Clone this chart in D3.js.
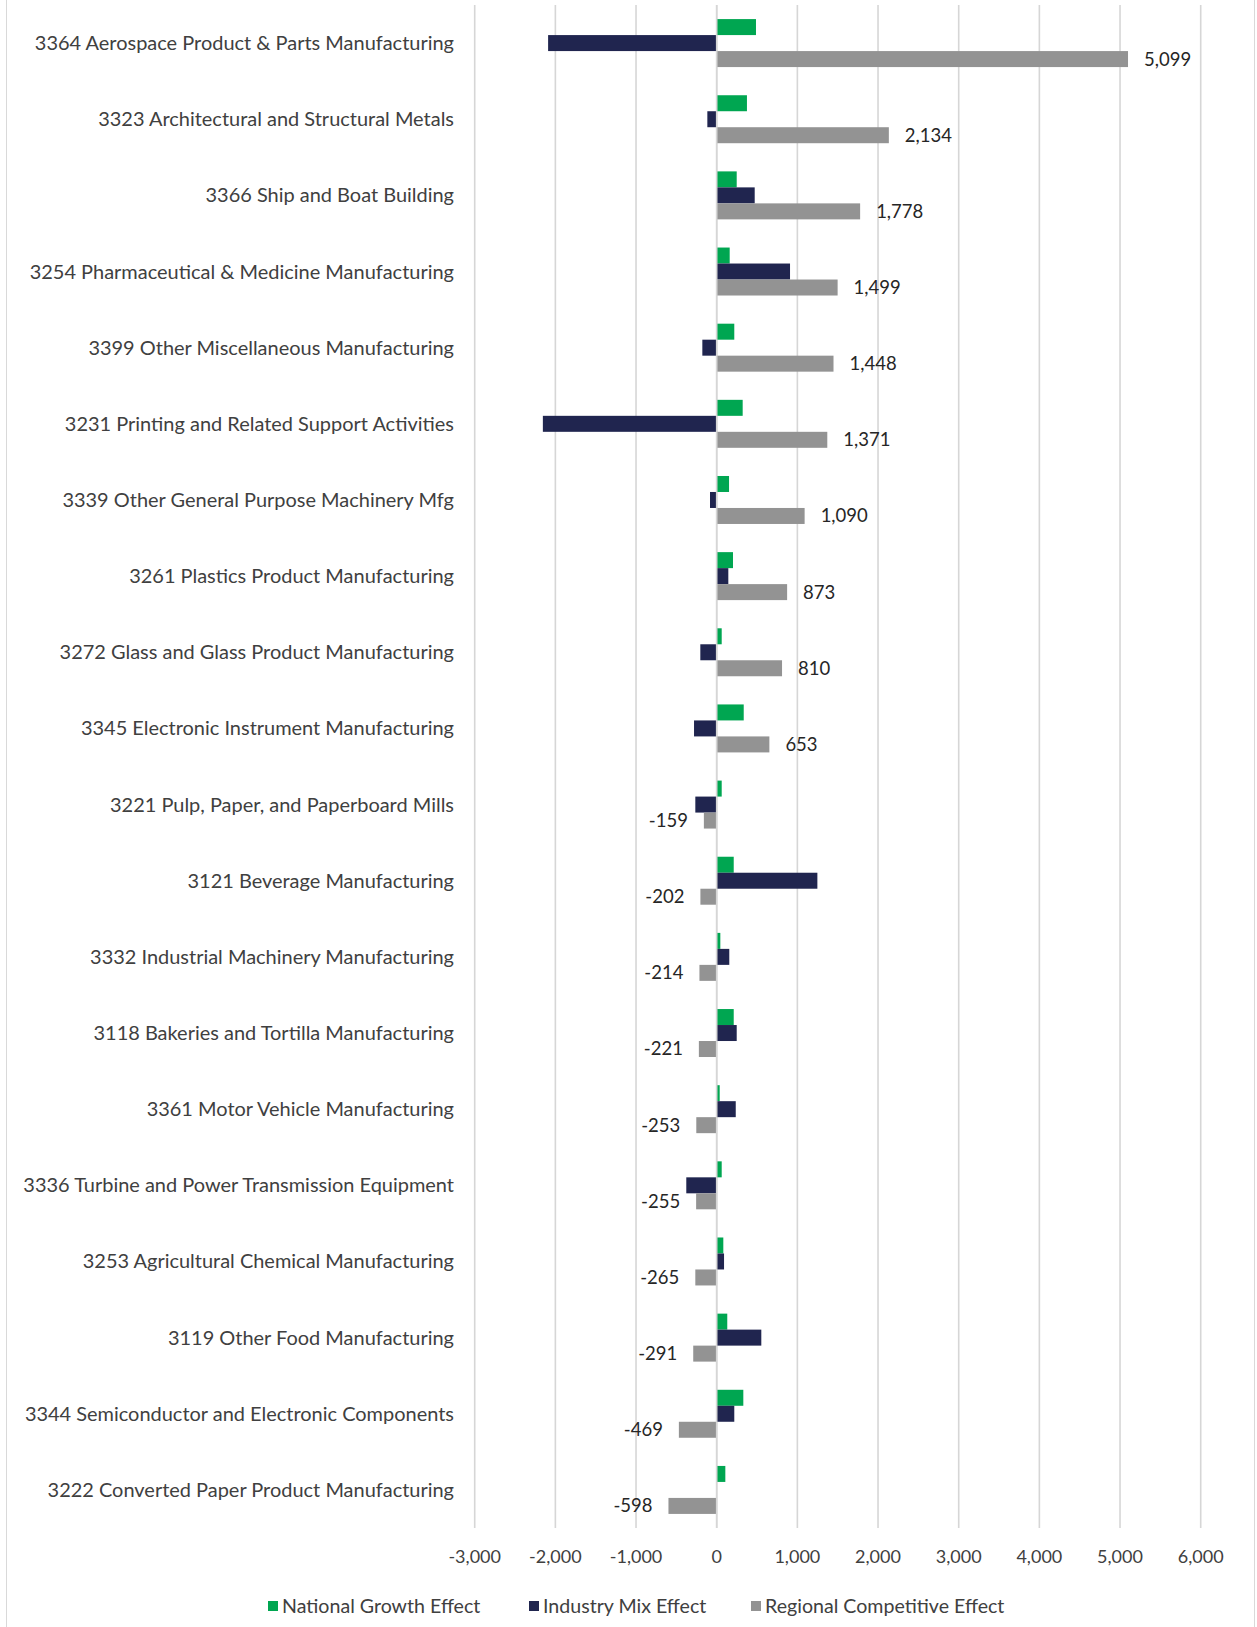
<!DOCTYPE html>
<html>
<head>
<meta charset="utf-8">
<script src="https://cdn.jsdelivr.net/npm/d3@7"></script>
<style>
  html, body { margin: 0; padding: 0; background: #fff; }
  svg text { font-family: Lato, "Open Sans", "Noto Sans", sans-serif; }
</style>
</head>
<body>
<svg id="chart" width="1257" height="1627"></svg>
<script>
// Shift-share components by manufacturing industry (jobs)
const categories = [
  "3364 Aerospace Product & Parts Manufacturing",
  "3323 Architectural and Structural Metals",
  "3366 Ship and Boat Building",
  "3254 Pharmaceutical & Medicine Manufacturing",
  "3399 Other Miscellaneous Manufacturing",
  "3231 Printing and Related Support Activities",
  "3339 Other General Purpose Machinery Mfg",
  "3261 Plastics Product Manufacturing",
  "3272 Glass and Glass Product Manufacturing",
  "3345 Electronic Instrument Manufacturing",
  "3221 Pulp, Paper, and Paperboard Mills",
  "3121 Beverage Manufacturing",
  "3332 Industrial Machinery Manufacturing",
  "3118 Bakeries and Tortilla Manufacturing",
  "3361 Motor Vehicle Manufacturing",
  "3336 Turbine and Power Transmission Equipment",
  "3253 Agricultural Chemical Manufacturing",
  "3119 Other Food Manufacturing",
  "3344 Semiconductor and Electronic Components",
  "3222 Converted Paper Product Manufacturing"
];

const nationalGrowth = [487, 375, 248, 161, 218, 322, 153, 202, 62, 335, 62, 211, 45, 211, 37, 62, 82, 131, 330, 107];
const industryMix = [-2090, -116, 471, 909, -178, -2155, -83, 144, -203, -281, -265, 1248, 156, 248, 236, -377, 91, 553, 218, -8];
const regionalCompetitive = [5099, 2134, 1778, 1499, 1448, 1371, 1090, 873, 810, 653, -159, -202, -214, -221, -253, -255, -265, -291, -469, -598];

const seriesNames = ["National Growth Effect", "Industry Mix Effect", "Regional Competitive Effect"];
const seriesColors = ["#00a651", "#20254f", "#939393"];
const tickValues = [-3000, -2000, -1000, 0, 1000, 2000, 3000, 4000, 5000, 6000];

const seriesValues = [nationalGrowth, industryMix, regionalCompetitive];

const svg = d3.select("#chart");
const W = 1257, H = 1627;
const plot = { left: 474.7, right: 1200.7, top: 5, bottom: 1528 };

const fmt = d3.formatLocale({ decimal: ".", thousands: ",", grouping: [3], currency: ["$", ""], minus: "-" }).format(",");

// outer chart frame
svg.append("rect")
  .attr("x", 6.5).attr("y", -2).attr("width", 1248).attr("height", H + 4)
  .attr("fill", "none").attr("stroke", "#d9d9d9").attr("stroke-width", 1);

const x = d3.scaleLinear().domain([-3000, 6000]).range([plot.left, plot.right]);
const y0 = d3.scaleBand().domain(categories).range([plot.top, plot.bottom])
  .paddingInner(0.37).paddingOuter(0.185);
const y1 = d3.scaleBand().domain(seriesNames).range([0, y0.bandwidth()]);

// vertical gridlines
svg.append("g").selectAll("line").data(tickValues).join("line")
  .attr("x1", d => x(d)).attr("x2", d => x(d))
  .attr("y1", plot.top).attr("y2", plot.bottom)
  .attr("stroke", "#d6d6d6").attr("stroke-width", 1.6);

// bars
const rows = categories.map((c, i) => ({ c, vals: seriesValues.map((s, k) => ({ key: seriesNames[k], k, v: s[i] })) }));
const grp = svg.append("g").selectAll("g").data(rows).join("g")
  .attr("transform", d => `translate(0,${y0(d.c)})`);
grp.selectAll("rect").data(d => d.vals).join("rect")
  .attr("x", d => Math.min(x(d.v), x(0)))
  .attr("width", d => Math.abs(x(d.v) - x(0)))
  .attr("y", d => y1(d.key))
  .attr("height", y1.bandwidth())
  .attr("fill", d => seriesColors[d.k]);

// zero axis line drawn over bars
svg.append("line")
  .attr("x1", x(0)).attr("x2", x(0)).attr("y1", plot.top).attr("y2", plot.bottom)
  .attr("stroke", "#d6d6d6").attr("stroke-width", 1.6);

// data labels for the regional competitive effect
grp.append("text")
  .attr("x", (d, i) => regionalCompetitive[i] >= 0 ? x(regionalCompetitive[i]) + 16 : x(regionalCompetitive[i]) - 16)
  .attr("y", y1(seriesNames[2]) + y1.bandwidth() / 2)
  .attr("dy", "0.35em")
  .attr("text-anchor", (d, i) => regionalCompetitive[i] >= 0 ? "start" : "end")
  .attr("font-size", 18.5)
  .attr("fill", "#262626")
  .text((d, i) => fmt(regionalCompetitive[i]));

// category labels
const catLabels = svg.append("g").selectAll("text").data(categories).join("text")
  .attr("x", 454)
  .attr("y", d => y0(d) + y0.bandwidth() / 2)
  .attr("dy", "0.35em")
  .attr("text-anchor", "end")
  .attr("font-size", 18)
  .attr("fill", "#404040")
  .text(d => d);
// size the category labels so the longest one spans the label column
let widest = 0;
catLabels.each(function () { widest = Math.max(widest, this.getComputedTextLength()); });
if (widest > 0) catLabels.attr("font-size", 18 * 431 / widest);

// value axis tick labels
svg.append("g").selectAll("text").data(tickValues).join("text")
  .attr("x", d => x(d)).attr("y", 1557).attr("dy", "0.35em")
  .attr("text-anchor", "middle")
  .attr("font-size", 18)
  .attr("fill", "#404040")
  .text(d => fmt(d));

// legend
const legendX = [268, 529, 751];
const leg = svg.append("g").selectAll("g").data(seriesNames).join("g")
  .attr("transform", (d, i) => `translate(${legendX[i]},1606)`);
leg.append("rect").attr("x", 0).attr("y", -5).attr("width", 10).attr("height", 10)
  .attr("fill", (d, i) => seriesColors[i]);
leg.append("text").attr("x", 14).attr("y", 0).attr("dy", "0.35em")
  .attr("font-size", 19.6).attr("fill", "#404040")
  .text(d => d);
</script>
</body>
</html>
